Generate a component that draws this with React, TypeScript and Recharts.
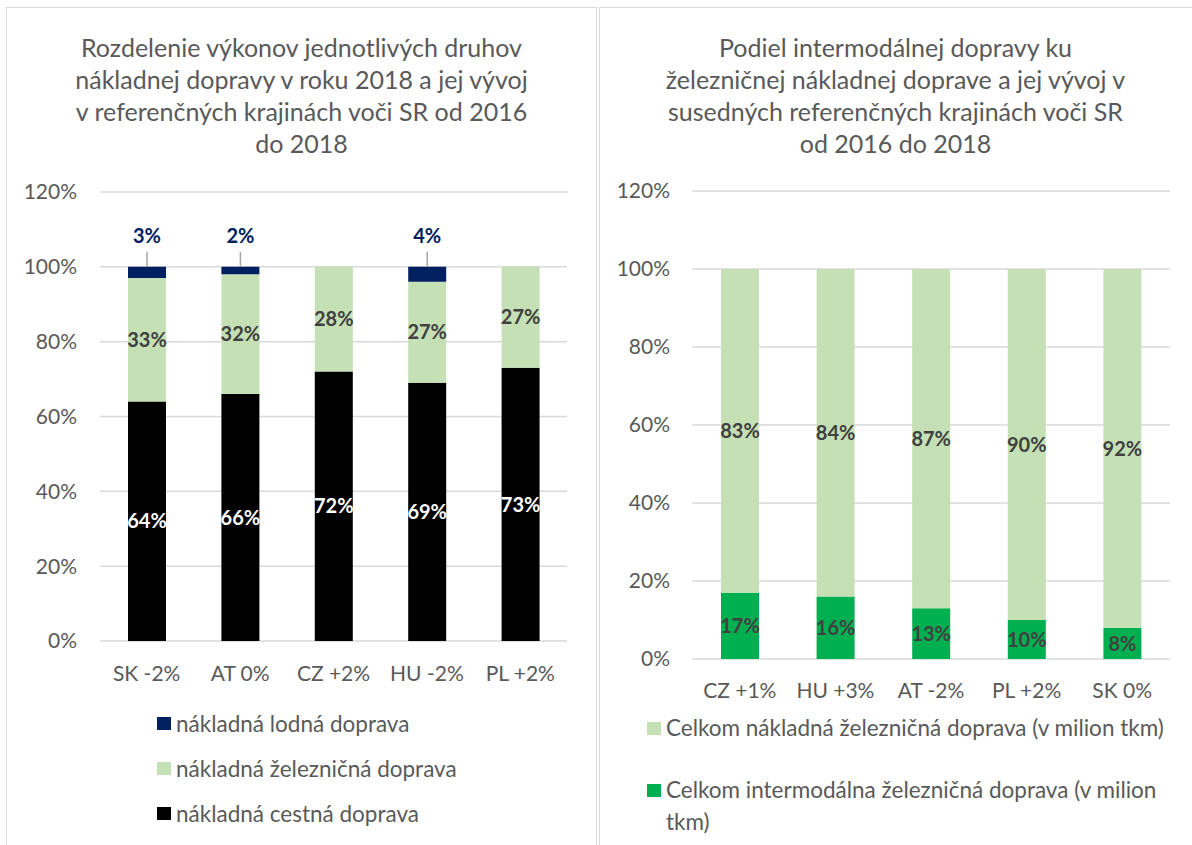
import { Bar, BarChart, CartesianGrid, LabelList, Legend, XAxis, YAxis } from "recharts"

// left chart: shares of freight transport modes 2018
const leftCountries = ["SK -2%", "AT 0%", "CZ +2%", "HU -2%", "PL +2%"]
const roadShare = [64, 66, 72, 69, 73]
const railShare = [33, 32, 28, 27, 27]
const waterShare = [3, 2, 0, 4, 0]

// right chart: intermodal share of rail freight
const rightCountries = ["CZ +1%", "HU +3%", "AT -2%", "PL +2%", "SK 0%"]
const intermodalShare = [17, 16, 13, 10, 8]
const railTotalShare = [83, 84, 87, 90, 92]

const percentTicks = [0, 20, 40, 60, 80, 100, 120]

const leftTitle = [
  "Rozdelenie výkonov jednotlivých druhov",
  "nákladnej dopravy v roku 2018 a jej vývoj",
  "v referenčných krajinách voči SR od 2016",
  "do 2018",
]
const rightTitle = [
  "Podiel intermodálnej dopravy ku",
  "železničnej nákladnej doprave a jej vývoj v",
  "susedných referenčných krajinách voči SR",
  "od 2016 do 2018",
]

const leftData = leftCountries.map((name, i) => ({
  name,
  road: roadShare[i],
  rail: railShare[i],
  water: waterShare[i],
}))

const rightData = rightCountries.map((name, i) => ({
  name,
  intermodal: intermodalShare[i],
  railTotal: railTotalShare[i],
}))

const GREY_TEXT = "#595959"
const GRID = "#d9d9d9"
const LABEL = "#404040"
const pct = (v: any) => (v ? `${v}%` : "")

const tickStyle = { fill: GREY_TEXT, fontSize: 21 }
const labelStyle = { fontSize: 20, fontWeight: 700 }

function WaterLabel(props: any) {
  const { x, y, width, value } = props
  if (!value) return null
  const cx = Number(x) + Number(width) / 2
  const top = Number(y)
  return (
    <g>
      <line x1={cx} x2={cx} y1={top - 15} y2={top} stroke="#a6a6a6" strokeWidth={1.5} />
      <text x={cx} y={top - 32} textAnchor="middle" dominantBaseline="central" fill="#002060" {...labelStyle}>
        {value}%
      </text>
    </g>
  )
}

// legend shows series top-of-stack first, like Excel
const byDataKeys = (payload: any[], keys: string[]) =>
  keys.map((k) => payload.find((p: any) => p.dataKey === k)).filter(Boolean)

function LeftLegend(props: any) {
  const items = byDataKeys(props.payload ?? [], ["water", "rail", "road"])
  return (
    <div>
      {items.map((it: any) => (
        <div key={it.value} style={{ display: "flex", alignItems: "center", height: 45, fontSize: 22.5, color: GREY_TEXT }}>
          <span style={{ width: 14, height: 13, background: it.color, marginRight: 5, flex: "none" }} />
          <span>{it.value}</span>
        </div>
      ))}
    </div>
  )
}

function RightLegend(props: any) {
  const items = byDataKeys(props.payload ?? [], ["railTotal", "intermodal"])
  return (
    <div>
      {items.map((it: any) => (
        <div key={it.value} style={{ display: "flex", alignItems: "flex-start", lineHeight: "32px", marginBottom: 30, fontSize: 22.5, color: GREY_TEXT }}>
          <span style={{ width: 14, height: 13, background: it.color, marginTop: 10, marginRight: 5, flex: "none" }} />
          <span style={{ width: 512 }}>{it.value}</span>
        </div>
      ))}
    </div>
  )
}

function Title({ lines, left, width }: { lines: string[]; left: number; width: number }) {
  return (
    <div style={{ position: "absolute", left, top: 31, width, textAlign: "center", fontSize: 25, lineHeight: "32px", color: GREY_TEXT }}>
      {lines.map((l) => (
        <div key={l}>{l}</div>
      ))}
    </div>
  )
}

export default function App() {
  return (
    <div style={{ position: "absolute", left: 0, top: 0, width: 1192, height: 845, overflow: "hidden", background: "#fff", fontFamily: "Lato, sans-serif" }}>
      <div style={{ position: "absolute", left: 6, top: 7, width: 591, height: 860, border: `1px solid ${GRID}`, boxSizing: "border-box" }} />
      <div style={{ position: "absolute", left: 599, top: 7, width: 600, height: 860, border: `1px solid ${GRID}`, boxSizing: "border-box" }} />

      <Title lines={leftTitle} left={6} width={591} />
      <Title lines={rightTitle} left={599} width={593} />

      <div style={{ position: "absolute", left: 6, top: 7 }}>
        <BarChart width={591} height={838} data={leftData} margin={{ top: 185, right: 30, bottom: 174, left: 0 }}>
          <CartesianGrid vertical={false} stroke={GRID} strokeWidth={1.5} />
          <XAxis dataKey="name" axisLine={false} tickLine={false} tick={tickStyle} tickMargin={19} interval={0} />
          <YAxis
            width={94}
            domain={[0, 120]}
            ticks={percentTicks}
            interval={0}
            axisLine={false}
            tickLine={false}
            tick={tickStyle}
            tickMargin={17}
            tickFormatter={(v: number) => `${v}%`}
          />
          <Legend
            layout="vertical"
            align="center"
            verticalAlign="middle"
            content={LeftLegend}
            wrapperStyle={{ left: 151, top: 694, width: 420, height: 140 }}
          />
          <Bar dataKey="road" name="nákladná cestná doprava" stackId="a" fill="#000000" barSize={38} isAnimationActive={false}>
            <LabelList dataKey="road" position="center" formatter={pct} fill="#ffffff" {...labelStyle} />
          </Bar>
          <Bar dataKey="rail" name="nákladná železničná doprava" stackId="a" fill="#c5e0b4" barSize={38} isAnimationActive={false}>
            <LabelList dataKey="rail" position="center" formatter={pct} fill={LABEL} {...labelStyle} />
          </Bar>
          <Bar dataKey="water" name="nákladná lodná doprava" stackId="a" fill="#002060" barSize={38} isAnimationActive={false}>
            <LabelList dataKey="water" content={WaterLabel} />
          </Bar>
        </BarChart>
      </div>

      <div style={{ position: "absolute", left: 599, top: 7 }}>
        <BarChart width={593} height={838} data={rightData} margin={{ top: 184, right: 22, bottom: 156, left: 0 }}>
          <CartesianGrid vertical={false} stroke={GRID} strokeWidth={1.5} />
          <XAxis dataKey="name" axisLine={false} tickLine={false} tick={tickStyle} tickMargin={18} interval={0} />
          <YAxis
            width={93}
            domain={[0, 120]}
            ticks={percentTicks}
            interval={0}
            axisLine={false}
            tickLine={false}
            tick={tickStyle}
            tickMargin={16}
            tickFormatter={(v: number) => `${v}%`}
          />
          <Legend
            layout="vertical"
            align="center"
            verticalAlign="middle"
            content={RightLegend}
            wrapperStyle={{ left: 48, top: 705, width: 545, height: 140 }}
          />
          <Bar dataKey="intermodal" name="Celkom intermodálna železničná doprava (v milion tkm)" stackId="b" fill="#00b050" barSize={38} isAnimationActive={false}>
            <LabelList dataKey="intermodal" position="center" formatter={pct} fill={LABEL} {...labelStyle} />
          </Bar>
          <Bar dataKey="railTotal" name="Celkom nákladná železničná doprava (v milion tkm)" stackId="b" fill="#c5e0b4" barSize={38} isAnimationActive={false}>
            <LabelList dataKey="railTotal" position="center" formatter={pct} fill={LABEL} {...labelStyle} />
          </Bar>
        </BarChart>
      </div>
    </div>
  )
}
